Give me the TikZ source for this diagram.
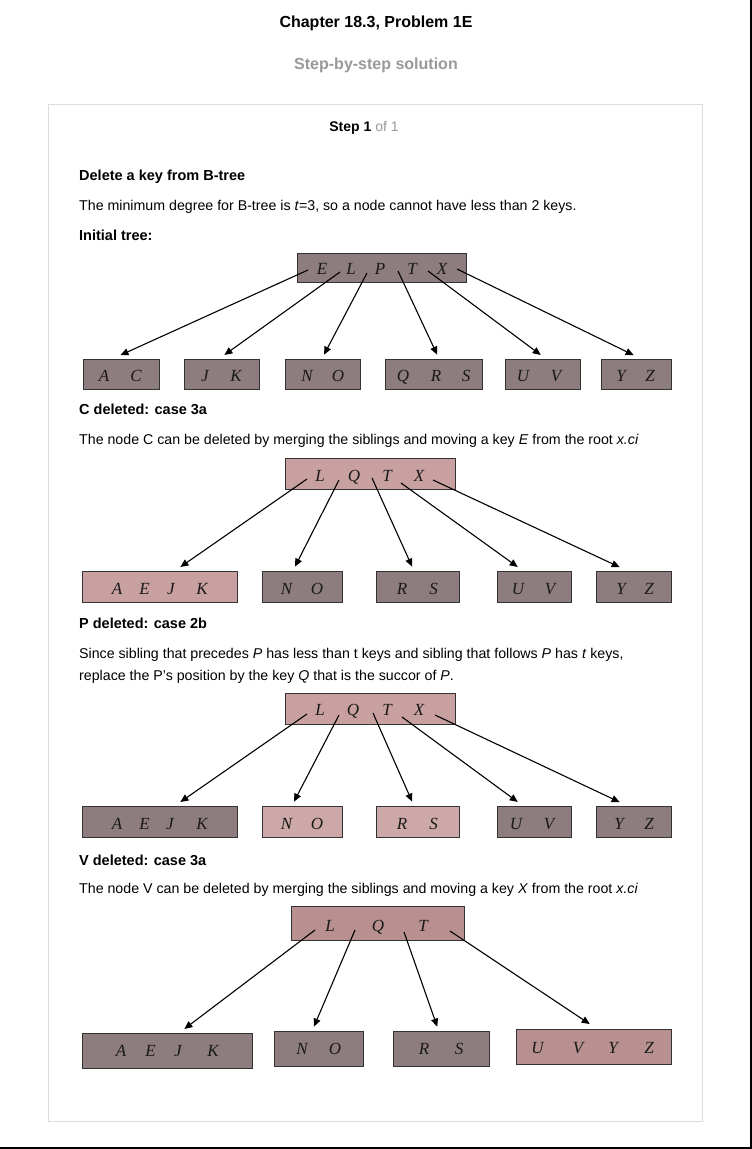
\documentclass[tikz,border=0pt]{standalone}
\usepackage{fontspec}
\setmainfont{Liberation Sans}
\newfontfamily\tms{Liberation Serif}
\usetikzlibrary{arrows.meta,calc}
\definecolor{gnode}{HTML}{8D7D7E}
\definecolor{pnode}{HTML}{C9A0A0}
\definecolor{lpnode}{HTML}{CDA8A8}
\definecolor{qnode}{HTML}{B89090}
\definecolor{cardline}{HTML}{DDDDDD}
\definecolor{greytxt}{HTML}{999999}
\tikzset{
  bx/.style={draw=black!80, line width=0.9pt, inner sep=0pt},
  gbx/.style={bx, fill=gnode},
  pbx/.style={bx, fill=pnode},
  lpbx/.style={bx, fill=lpnode},
  qbx/.style={bx, fill=qnode},
  key/.style={inner sep=0pt, anchor=base, font=\tms\itshape\fontsize{17}{19}\selectfont, text=black!90},
  body/.style={inner sep=0pt, anchor=base west, font=\fontsize{14.2}{16}\selectfont},
  head/.style={inner sep=0pt, anchor=base west, font=\bfseries\fontsize{14.5}{16}\selectfont},
  arr/.style={line width=1.1pt, -{Triangle[length=8pt,width=7pt]}, shorten >=1pt},
}
\newcommand{\keyrow}[3]{\foreach \xx/\kk in {#3} {\node[key] (#1\kk) at (\xx,#2) {\kk};}}
\newcommand{\bxat}[6]{\node[#1, minimum width=#4, minimum height=#5] (#6) at (#2,#3) {};}
\begin{document}
\begin{tikzpicture}[x=1pt,y=-1pt]
\useasboundingbox (0,0) rectangle (752,1149);
\fill[white] (0,0) rectangle (752,1149);
\draw[line width=2pt] (751,0) -- (751,1148) -- (0,1148);
\draw[cardline, line width=1pt] (48.5,104.5) rectangle (702.5,1121.5);
% header texts
\node[inner sep=0pt, anchor=base, font=\bfseries\fontsize{16}{18}\selectfont] (title) at (376,27.5) {Chapter 18.3, Problem 1E};
\node[inner sep=0pt, anchor=base, font=\bfseries\fontsize{16}{18}\selectfont, text=greytxt] (sub) at (376,69.5) {Step-by-step solution};
\node[inner sep=0pt, anchor=base, font=\fontsize{14}{16}\selectfont] (step) at (364,131.5) {\textbf{Step 1} \textcolor{greytxt}{of 1}};
\node[head] (h1) at (79,180.5) {Delete a key from B-tree};
\node[body] (t1) at (79,210.5) {The minimum degree for B-tree is \textit{t}=3, so a node cannot have less than 2 keys.};
\node[head] (h2) at (79,240.5) {Initial tree:};
\node[head] (h3) at (79,414.5) {C deleted: case 3a};
\node[body] (t3) at (79,444.5) {The node C can be deleted by merging the siblings and moving a key \textit{E} from the root \textit{x.ci}};
\node[head] (h4) at (79,628.5) {P deleted: case 2b};
\node[body] (t4) at (79,658.5) {Since sibling that precedes \textit{P} has less than t keys and sibling that follows \textit{P} has \textit{t} keys,};
\node[body] (t4b) at (79,680) {replace the P’s position by the key \textit{Q} that is the succor of \textit{P}.};
\node[head] (h5) at (79,865.5) {V deleted: case 3a};
\node[body] (t5) at (79,893.5) {The node V can be deleted by merging the siblings and moving a key \textit{X} from the root \textit{x.ci}};

% ---------- Tree 1 ----------
\bxat{gbx}{381.5}{267.5}{169}{29}{r1}
\keyrow{r1}{274}{322/E,351/L,380/P,412/T,442/X}
\bxat{gbx}{121}{374}{76}{30}{a1}
\bxat{gbx}{221.5}{374}{75}{30}{b1}
\bxat{gbx}{322.5}{374}{75}{30}{c1}
\bxat{gbx}{433.5}{374}{97}{30}{d1}
\bxat{gbx}{542.5}{374}{75}{30}{e1}
\bxat{gbx}{636}{374}{70}{30}{f1}
\keyrow{a1}{381.5}{104/A,136/C}
\keyrow{b1}{381.5}{205/J,236/K}
\keyrow{c1}{381.5}{307/N,338/O}
\keyrow{d1}{381.5}{403/Q,436/R,466/S}
\keyrow{e1}{381.5}{523/U,556/V}
\keyrow{f1}{381.5}{621/Y,650/Z}
\coordinate (s11) at (308,270); \coordinate (s12) at (340,272); \coordinate (s13) at (367,273);
\coordinate (s14) at (398,271); \coordinate (s15) at (428,271); \coordinate (s16) at (457,269);
\draw[arr] (s11) -- ($(a1.north west)+(37,-3)$);
\draw[arr] (s12) -- ($(b1.north west)+(40,-3)$);
\draw[arr] (s13) -- ($(c1.north west)+(39,-3)$);
\draw[arr] (s14) -- ($(d1.north west)+(53,-3)$);
\draw[arr] (s15) -- ($(e1.north west)+(37,-3)$);
\draw[arr] (s16) -- ($(f1.north west)+(34,-3)$);

% ---------- Tree 2 ----------
\bxat{pbx}{370}{473.5}{170}{31}{r2}
\keyrow{r2}{481}{320/L,354/Q,387/T,419/X}
\bxat{pbx}{159.5}{586.5}{155}{31}{a2}
\bxat{gbx}{302}{586.5}{80}{31}{b2}
\bxat{gbx}{417.5}{586.5}{83}{31}{c2}
\bxat{gbx}{534}{586.5}{74}{31}{d2}
\bxat{gbx}{633.5}{586.5}{75}{31}{e2}
\keyrow{a2}{594}{117/A,144.5/E,171/J,202/K}
\keyrow{b2}{594}{286.5/N,317/O}
\keyrow{c2}{594}{402/R,433.5/S}
\keyrow{d2}{594}{518/U,550/V}
\keyrow{e2}{594}{621/Y,649/Z}
\coordinate (s21) at (307,479); \coordinate (s22) at (339,480); \coordinate (s23) at (372,478);
\coordinate (s24) at (401,483); \coordinate (s25) at (433,480);
\draw[arr] (s21) -- ($(a2.north west)+(98,-3)$);
\draw[arr] (s22) -- ($(b2.north west)+(33,-3)$);
\draw[arr] (s23) -- ($(c2.north west)+(37,-3)$);
\draw[arr] (s24) -- ($(d2.north west)+(22,-3)$);
\draw[arr] (s25) -- ($(e2.north west)+(25,-3)$);

% ---------- Tree 3 ----------
\bxat{pbx}{370}{708.5}{170}{31}{r3}
\keyrow{r3}{715.5}{320/L,353/Q,387/T,419/X}
\bxat{gbx}{159.5}{821.5}{155}{31}{a3}
\bxat{lpbx}{302}{821.5}{80}{31}{b3}
\bxat{lpbx}{417.5}{821.5}{83}{31}{c3}
\bxat{gbx}{534}{821.5}{74}{31}{d3}
\bxat{gbx}{633.5}{821.5}{75}{31}{e3}
\keyrow{a3}{829.5}{117/A,144.5/E,170/J,202/K}
\keyrow{b3}{829.5}{286.5/N,317/O}
\keyrow{c3}{829.5}{402/R,433.5/S}
\keyrow{d3}{829.5}{516/U,549/V}
\keyrow{e3}{829.5}{619/Y,649/Z}
\coordinate (s31) at (307,714); \coordinate (s32) at (339,715); \coordinate (s33) at (373,713);
\coordinate (s34) at (402,717); \coordinate (s35) at (435,715);
\draw[arr] (s31) -- ($(a3.north west)+(98,-3)$);
\draw[arr] (s32) -- ($(b3.north west)+(32,-3)$);
\draw[arr] (s33) -- ($(c3.north west)+(37,-3)$);
\draw[arr] (s34) -- ($(d3.north west)+(22,-3)$);
\draw[arr] (s35) -- ($(e3.north west)+(25,-3)$);

% ---------- Tree 4 ----------
\bxat{qbx}{377.5}{923}{173}{34}{r4}
\keyrow{r4}{931}{330/L,378/Q,423/T}
\bxat{gbx}{167}{1050.5}{170}{35}{a4}
\bxat{gbx}{318.5}{1048.5}{89}{35}{b4}
\bxat{gbx}{441}{1048.5}{96}{35}{c4}
\bxat{qbx}{593.5}{1046.5}{155}{35}{d4}
\keyrow{a4}{1056.5}{121/A,150.5/E,178/J,213/K}
\keyrow{b4}{1054.5}{302/N,335/O}
\keyrow{c4}{1054.5}{424/R,459/S}
\keyrow{d4}{1053}{537.5/U,578/V,613/Y,649/Z}
\coordinate (s41) at (315,930); \coordinate (s42) at (355,930); \coordinate (s43) at (404,932);
\coordinate (s44) at (450,931);
\draw[arr] (s41) -- ($(a4.north west)+(102,-3)$);
\draw[arr] (s42) -- ($(b4.north west)+(40,-3)$);
\draw[arr] (s43) -- ($(c4.north west)+(45,-3)$);
\draw[arr] (s44) -- ($(d4.north west)+(75,-4)$);
\end{tikzpicture}
\end{document}
